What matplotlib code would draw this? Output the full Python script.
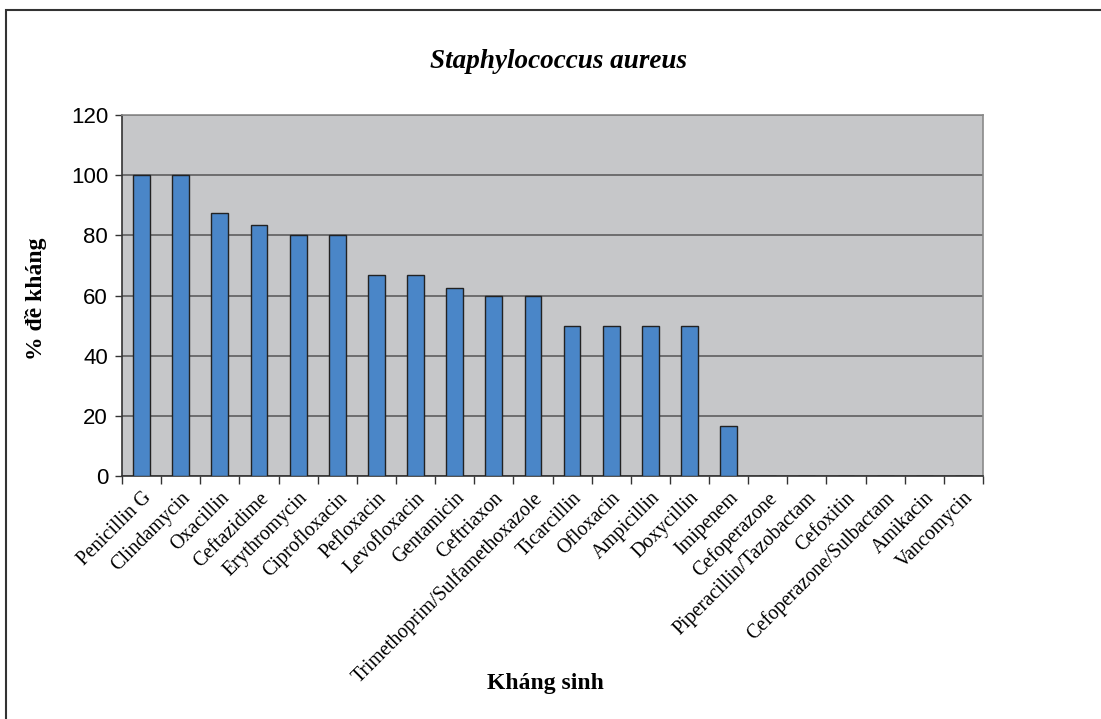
import numpy as np
import matplotlib.pyplot as plt
from matplotlib.patches import Rectangle

# du lieu: ty le de khang (%) cua Staphylococcus aureus
khang_sinh = ['Penicillin G', 'Clindamycin', 'Oxacillin', 'Ceftazidime', 'Erythromycin',
              'Ciprofloxacin', 'Pefloxacin', 'Levofloxacin', 'Gentamicin', 'Ceftriaxon',
              'Trimethoprim/Sulfamethoxazole', 'Ticarcillin', 'Ofloxacin', 'Ampicillin',
              'Doxycillin', 'Imipenem', 'Cefoperazone', 'Piperacillin/Tazobactam',
              'Cefoxitin', 'Cefoperazone/Sulbactam', 'Amikacin', 'Vancomycin']
ty_le = [100, 100, 87.5, 83.3, 80, 80, 66.7, 66.7, 62.5, 60, 60, 50, 50, 50, 50, 16.7,
         0, 0, 0, 0, 0, 0]
y_ticks = [0, 20, 40, 60, 80, 100, 120]

fig = plt.figure(figsize=(11.01, 7.19), dpi=100)
ax = fig.add_axes([122/1101, 1 - 476/719, 861/1101, 361/719])

x = np.arange(len(khang_sinh))
ax.set_facecolor('#c6c7c9')
ax.bar(x, ty_le, width=0.43, color='#4a86c8', edgecolor='#222222', linewidth=1, zorder=3)

ax.set_xlim(-0.5, len(khang_sinh) - 0.5)
ax.set_ylim(0, 120)
ax.set_yticks(y_ticks)
ax.yaxis.grid(True, color='#555555', linewidth=1.1, zorder=1)
ax.set_axisbelow(True)
ax.tick_params(axis='y', labelsize=16, length=5, color='#333333', width=1, pad=5)
for t in ax.get_yticklabels():
    t.set_fontfamily('Liberation Sans')

# nhan truc x xoay 45 do, vach chia o ranh gioi cac cot
ax.set_xticks(x)
ax.set_xticklabels(khang_sinh, rotation=45, ha='right', rotation_mode='anchor',
                   fontsize=14.3, fontfamily='Liberation Serif')
ax.tick_params(axis='x', which='major', length=0, pad=9)
ax.set_xticks(np.arange(len(khang_sinh) + 1) - 0.5, minor=True)
ax.tick_params(axis='x', which='minor', length=6, color='#333333', width=1)

for s in ['left', 'bottom']:
    ax.spines[s].set_color('#333333')
    ax.spines[s].set_linewidth(1.2)
for s in ['top', 'right']:
    ax.spines[s].set_color('#8a8a8a')
    ax.spines[s].set_linewidth(1.2)

ax.set_ylabel('% đề kháng', fontsize=17, fontweight='bold', fontfamily='Liberation Serif')
ax.yaxis.set_label_coords(-0.087, 0.49)
ax.set_xlabel('Kháng sinh', fontsize=17, fontweight='bold', fontfamily='Liberation Serif')
ax.xaxis.set_label_coords(0.492, -0.545)
fig.text(559/1101, 1 - 61/719, 'Staphylococcus aureus', ha='center', va='center', fontsize=19.5,
         fontweight='bold', fontstyle='italic', fontfamily='Liberation Serif')

# khung vien ngoai (chi thay canh tren va canh trai)
fig.patches.append(Rectangle((6/1101, -0.1), 1.2, 1 - 10.5/719 + 0.1, transform=fig.transFigure,
                             fill=False, edgecolor='#333333', linewidth=1.5))

fig.savefig('out.png', dpi=100)
